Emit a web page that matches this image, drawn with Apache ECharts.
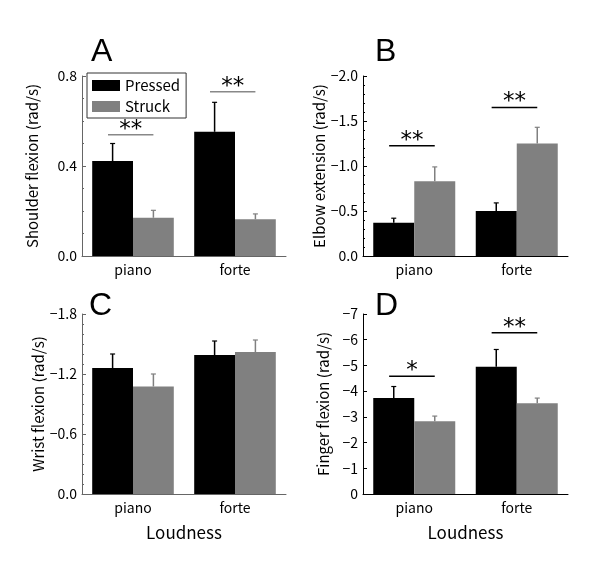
<!DOCTYPE html>
<html>
<head>
<meta charset="utf-8">
<script src="https://cdn.jsdelivr.net/npm/echarts@6/dist/echarts.min.js"></script>
<style>
html,body{margin:0;padding:0;background:#fff;}
#chart{width:600px;height:565px;}
</style>
</head>
<body>
<div id="chart"></div>
<script>
// ---- data ----
const categories = ['piano', 'forte'];
const seriesNames = ['Pressed', 'Struck'];

// Panel A: Shoulder flexion
const shoulderPressed = [0.422, 0.552];
const shoulderPressedErr = [0.50, 0.683];
const shoulderStruck = [0.170, 0.163];
const shoulderStruckErr = [0.203, 0.187];
const shoulderSigLevel = [0.539, 0.730];
const shoulderSigMark = ['**', '**'];
const shoulderTicks = [0, 0.4, 0.8];

// Panel B: Elbow extension
const elbowPressed = [-0.37, -0.50];
const elbowPressedErr = [-0.42, -0.59];
const elbowStruck = [-0.83, -1.25];
const elbowStruckErr = [-0.99, -1.43];
const elbowSigLevel = [-1.225, -1.65];
const elbowSigMark = ['**', '**'];
const elbowTicks = [-2.0, -1.5, -1.0, -0.5, 0];

// Panel C: Wrist flexion
const wristPressed = [-1.26, -1.39];
const wristPressedErr = [-1.40, -1.53];
const wristStruck = [-1.075, -1.42];
const wristStruckErr = [-1.20, -1.54];
const wristSigLevel = [];
const wristSigMark = [];
const wristTicks = [-1.8, -1.2, -0.6, 0];

// Panel D: Finger flexion
const fingerPressed = [-3.73, -4.95];
const fingerPressedErr = [-4.18, -5.62];
const fingerStruck = [-2.83, -3.53];
const fingerStruckErr = [-3.03, -3.73];
const fingerSigLevel = [-4.58, -6.27];
const fingerSigMark = ['*', '**'];
const fingerTicks = [-7, -6, -5, -4, -3, -2, -1, 0];

const yNames = ['Shoulder flexion (rad/s)', 'Elbow extension (rad/s)', 'Wrist flexion (rad/s)', 'Finger flexion (rad/s)'];
const panelLetters = ['A', 'B', 'C', 'D'];
const xName = 'Loudness';

// ---- layout ----
const FONT = '"Noto Sans CJK JP", "Liberation Sans", sans-serif';
const grids = [
  {left: 82, top: 76, width: 204, height: 180},
  {left: 363, top: 76, width: 205, height: 180},
  {left: 82, top: 314, width: 204, height: 180},
  {left: 363, top: 314, width: 205, height: 180}
];
const axisColors = ['#666', '#000', '#666', '#000'];
const sigColors = ['#888', '#000', '#000', '#000'];
const minus = '\u2212';
function fmt1(v){ return v === 0 ? '0.0' : (v < 0 ? minus + Math.abs(v).toFixed(1) : v.toFixed(1)); }
function fmt0(v){ return v === 0 ? '0' : (v < 0 ? minus + Math.abs(v) : String(v)); }

const panels = [
  {p: shoulderPressed, pe: shoulderPressedErr, s: shoulderStruck, se: shoulderStruckErr, sl: shoulderSigLevel, sm: shoulderSigMark, ticks: shoulderTicks, inverse: false, fmt: fmt1, minor: 4, nameGap: 42},
  {p: elbowPressed, pe: elbowPressedErr, s: elbowStruck, se: elbowStruckErr, sl: elbowSigLevel, sm: elbowSigMark, ticks: elbowTicks, inverse: true, fmt: fmt1, minor: 5, nameGap: 32},
  {p: wristPressed, pe: wristPressedErr, s: wristStruck, se: wristStruckErr, sl: wristSigLevel, sm: wristSigMark, ticks: wristTicks, inverse: true, fmt: fmt1, minor: 6, nameGap: 36},
  {p: fingerPressed, pe: fingerPressedErr, s: fingerStruck, se: fingerStruckErr, sl: fingerSigLevel, sm: fingerSigMark, ticks: fingerTicks, inverse: true, fmt: fmt0, minor: 0, nameGap: 32}
];

const xAxes = [], yAxes = [], series = [];
panels.forEach((pn, g) => {
  const tmin = Math.min(...pn.ticks), tmax = Math.max(...pn.ticks);
  const interval = pn.ticks[1] - pn.ticks[0];
  xAxes.push({
    type: 'category', gridIndex: g, data: categories,
    axisLine: {lineStyle: {color: axisColors[g], width: 1}},
    axisTick: {show: false},
    axisLabel: {color: '#000', fontSize: 14, fontFamily: FONT, margin: 7},
    name: g >= 2 ? xName : '', nameLocation: 'middle', nameGap: 30,
    nameTextStyle: {color: '#000', fontSize: 17, fontFamily: FONT}
  });
  yAxes.push({
    type: 'value', gridIndex: g, min: tmin, max: tmax, interval: interval, inverse: pn.inverse,
    splitLine: {show: false},
    axisLine: {show: true, lineStyle: {color: axisColors[g], width: 1}},
    axisTick: {show: true, inside: true, length: 4, lineStyle: {color: axisColors[g]}},
    minorTick: {show: pn.minor > 0, splitNumber: pn.minor || 5, length: 2, lineStyle: {color: axisColors[g]}},
    axisLabel: {color: '#000', fontSize: 14, fontFamily: FONT, margin: 5, formatter: pn.fmt},
    name: yNames[g], nameLocation: 'middle', nameGap: pn.nameGap, nameRotate: 90,
    nameTextStyle: {color: '#000', fontSize: 15, fontFamily: FONT}
  });
  series.push({
    name: 'Pressed', type: 'bar', xAxisIndex: g, yAxisIndex: g, data: pn.p,
    barGap: '0%', barCategoryGap: '20%', itemStyle: {color: '#000'}, z: 2
  });
  series.push({
    name: 'Struck', type: 'bar', xAxisIndex: g, yAxisIndex: g, data: pn.s,
    barGap: '0%', barCategoryGap: '20%', itemStyle: {color: '#808080'}, z: 2
  });
  const errData = [];
  categories.forEach((c, i) => {
    errData.push([i, pn.p[i], pn.pe[i], -1]);
    errData.push([i, pn.s[i], pn.se[i], 1]);
  });
  series.push({
    name: 'err' + g, type: 'custom', xAxisIndex: g, yAxisIndex: g, data: errData,
    encode: {x: 0, y: [1, 2]}, z: 3,
    renderItem: function(params, api){
      const i = api.value(0);
      const band = api.size([1, 0])[0];
      const side = api.value(3);
      const a = api.coord([i, api.value(1)]);
      const b = api.coord([i, api.value(2)]);
      const x = a[0] + side * band * 0.2;
      const col = side < 0 ? '#000' : '#808080';
      return {type: 'group', children: [
        {type: 'line', shape: {x1: x, y1: a[1], x2: x, y2: b[1]}, style: {stroke: col, lineWidth: 1.5}},
        {type: 'line', shape: {x1: x - 2.5, y1: b[1], x2: x + 2.5, y2: b[1]}, style: {stroke: col, lineWidth: 1.2}}
      ]};
    }
  });
  if (pn.sl.length) {
    const sigData = pn.sl.map((lv, i) => [i, lv]);
    series.push({
      name: 'sig' + g, type: 'custom', xAxisIndex: g, yAxisIndex: g, data: sigData,
      encode: {x: 0, y: 1}, z: 5,
      renderItem: function(params, api){
        const i = api.value(0);
        const band = api.size([1, 0])[0];
        const c = api.coord([i, api.value(1)]);
        const x1 = c[0] - band * 0.245, x2 = c[0] + band * 0.2;
        const mark = pn.sm[params.dataIndex];
        return {type: 'group', children: [
          {type: 'line', shape: {x1: x1, y1: c[1], x2: x2, y2: c[1]}, style: {stroke: sigColors[g], lineWidth: 1.5}},
          {type: 'text', style: {text: mark, x: (x1 + x2) / 2, y: c[1] - 5, textAlign: 'center', textVerticalAlign: 'middle', fontSize: 23, fontFamily: '"DejaVu Sans", sans-serif', fill: '#000'}}
        ]};
      }
    });
  }
});

const letterPos = [[91, 36], [375, 36], [89, 290], [375, 290]];
const graphics = panelLetters.map((L, k) => ({
  type: 'text', left: letterPos[k][0], top: letterPos[k][1],
  style: {text: L, fontSize: 32, fontFamily: '"Liberation Sans", sans-serif', fill: '#000'}
}));

const chart = echarts.init(document.getElementById('chart'), null, {renderer: 'canvas'});
chart.setOption({
  backgroundColor: '#fff',
  animation: false,
  grid: grids,
  xAxis: xAxes,
  yAxis: yAxes,
  legend: {
    data: seriesNames, orient: 'vertical', left: 87, top: 73,
    icon: 'rect', itemWidth: 28, itemHeight: 11, itemGap: 6,
    padding: [5, 6, 4, 5], borderColor: '#333', borderWidth: 1,
    textStyle: {fontSize: 15, fontFamily: FONT, color: '#000'},
    selectedMode: false
  },
  graphic: graphics,
  series: series
});
</script>
</body>
</html>
